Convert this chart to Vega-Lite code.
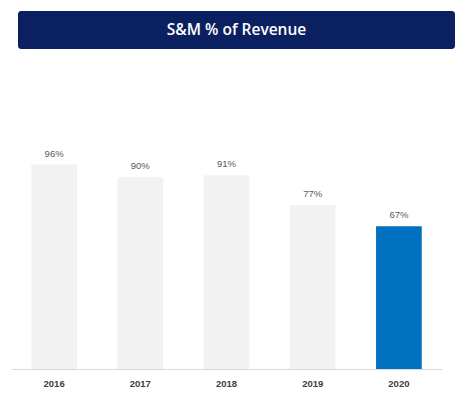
{
  "$schema": "https://vega.github.io/schema/vega-lite/v6.json",
  "padding": {"left": 11, "top": 11, "right": 0, "bottom": 0},
  "background": "white",
  "config": {"view": {"stroke": null}},
  "spacing": 99,
  "center": true,
  "vconcat": [
    {
      "width": 437,
      "height": 38,
      "view": {"fill": "#0b2060", "stroke": null, "cornerRadius": 3},
      "data": {"values": [{"label": "S&M % of Revenue"}]},
      "mark": {"type": "text", "color": "white", "font": "Open Sans", "fontSize": 15.5, "fontWeight": 600, "baseline": "middle", "align": "center"},
      "encoding": {
        "text": {"field": "label", "type": "nominal"}
      }
    },
    {
      "width": 431,
      "height": 213,
      "data": {"values": [
        {"year": "2016", "value": 0.96},
        {"year": "2017", "value": 0.90},
        {"year": "2018", "value": 0.91},
        {"year": "2019", "value": 0.77},
        {"year": "2020", "value": 0.67}
      ]},
      "encoding": {
        "x": {"field": "year", "type": "ordinal", "sort": null,
              "scale": {"paddingInner": 0.47, "paddingOuter": 0.235},
              "axis": {"title": null, "labelAngle": 0, "ticks": false, "domainColor": "#d9d9d9", "domainWidth": 1,
                       "labelPadding": 9, "labelFont": "Liberation Sans", "labelFontWeight": "bold", "labelFontSize": 9.5, "labelColor": "#404040"}},
        "y": {"field": "value", "type": "quantitative", "scale": {"domain": [0, 1]},
              "axis": {"orient": "right", "labels": false, "ticks": false, "domain": false, "grid": false, "title": null, "minExtent": 20, "maxExtent": 20}}
      },
      "layer": [
        {
          "mark": {"type": "bar"},
          "encoding": {
            "color": {"field": "year", "type": "nominal", "legend": null,
                      "scale": {"domain": ["2016", "2017", "2018", "2019", "2020"], "range": ["#f2f2f2", "#f2f2f2", "#f2f2f2", "#f2f2f2", "#0070c0"]}}
          }
        },
        {
          "mark": {"type": "text", "dy": -8, "baseline": "alphabetic", "font": "Liberation Sans", "fontSize": 9.5, "color": "#595959"},
          "encoding": {"text": {"field": "value", "type": "quantitative", "format": ".0%"}}
        }
      ]
    }
  ]
}
